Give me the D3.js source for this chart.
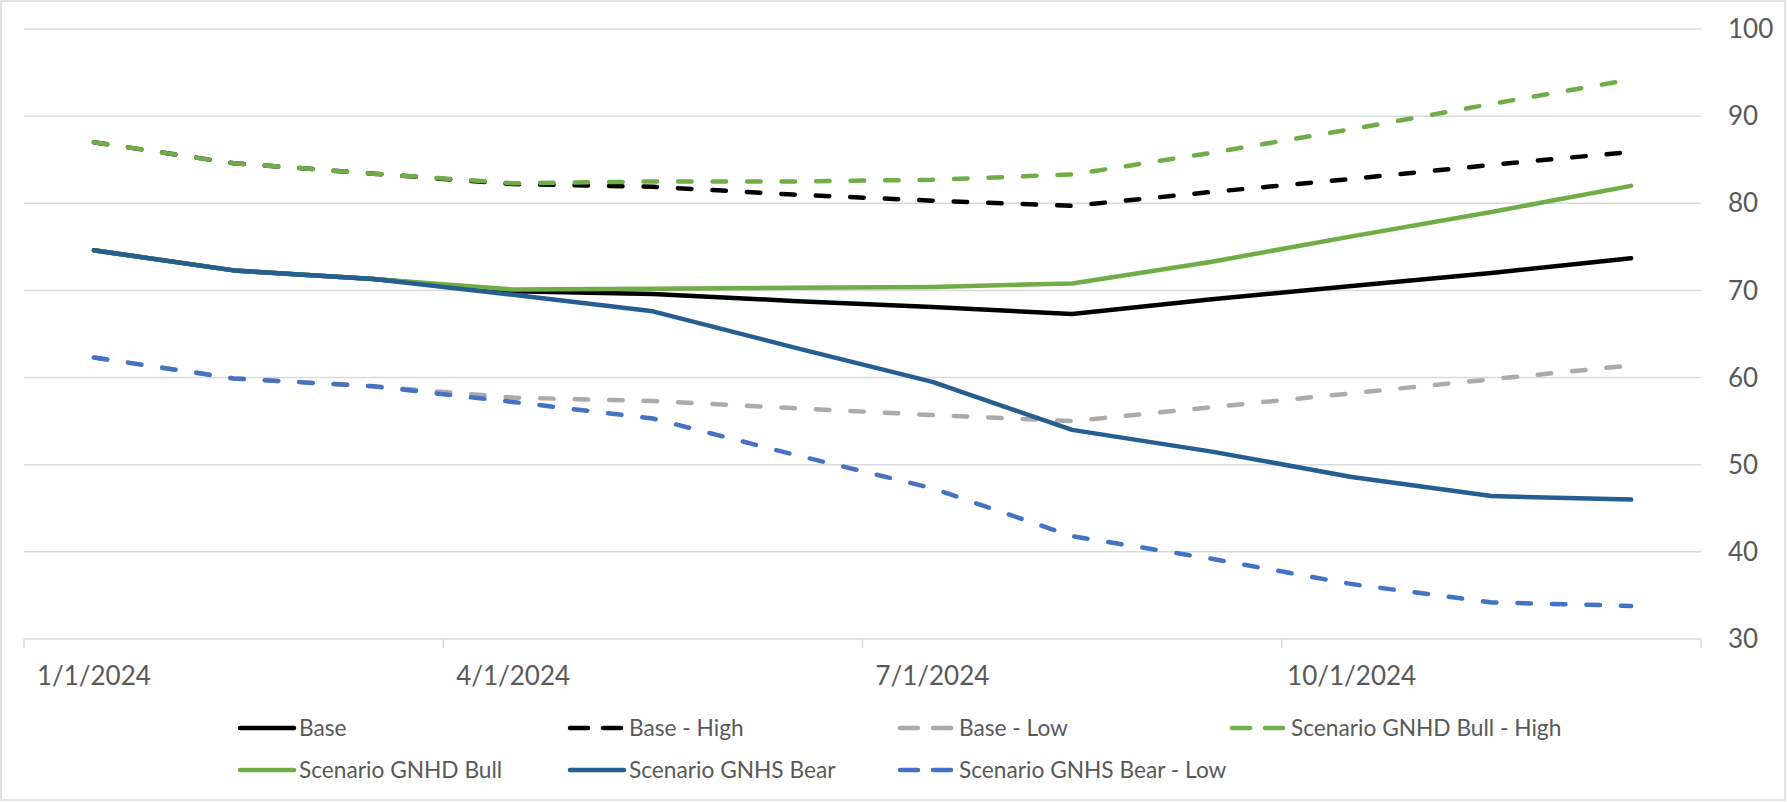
<!DOCTYPE html>
<html>
<head>
<meta charset="utf-8">
<script src="https://cdn.jsdelivr.net/npm/d3@7/dist/d3.min.js"></script>
<style>
  body { margin: 0; background: #fff; }
  svg text { font-family: Lato, "Open Sans", sans-serif; fill: #595959; }
</style>
</head>
<body>
<svg id="chart" width="1787" height="802"></svg>
<script>
// monthly points, Jan - Dec 2024
const months = ['1/1/2024', '2/1/2024', '3/1/2024', '4/1/2024', '5/1/2024', '6/1/2024',
                '7/1/2024', '8/1/2024', '9/1/2024', '10/1/2024', '11/1/2024', '12/1/2024'];
const tickLabels = ['1/1/2024', '4/1/2024', '7/1/2024', '10/1/2024'];
const yTicks = [30, 40, 50, 60, 70, 80, 90, 100];

const base      = [74.6, 72.3, 71.3, 69.9, 69.6, 68.8, 68.1, 67.3, 69.0, 70.5, 72.0, 73.7];
const baseHigh  = [87.0, 84.6, 83.4, 82.2, 81.9, 81.0, 80.3, 79.7, 81.3, 82.8, 84.4, 85.9];
const baseLow   = [62.3, 59.9, 59.0, 57.7, 57.3, 56.5, 55.7, 55.0, 56.6, 58.2, 59.8, 61.4];
const bullHigh  = [87.0, 84.6, 83.4, 82.3, 82.5, 82.5, 82.7, 83.3, 85.8, 88.5, 91.4, 94.2];
const bull      = [74.6, 72.3, 71.3, 70.1, 70.2, 70.3, 70.4, 70.8, 73.3, 76.2, 79.0, 82.0];
const bear      = [74.6, 72.3, 71.3, 69.5, 67.6, 63.5, 59.5, 54.0, 51.5, 48.6, 46.4, 46.0];
const bearLow   = [62.3, 59.9, 59.0, 57.2, 55.3, 51.2, 47.3, 41.8, 39.2, 36.3, 34.2, 33.8];

const seriesNames = ['Base', 'Base - High', 'Base - Low', 'Scenario GNHD Bull - High',
                     'Scenario GNHD Bull', 'Scenario GNHS Bear', 'Scenario GNHS Bear - Low'];
const seriesValues = [base, baseHigh, baseLow, bullHigh, bull, bear, bearLow];

// look of each series (same order as names)
const colors = ['#000000', '#000000', '#AEAAAA', '#70AD47', '#70AD47', '#255E91', '#4472C4'];
const dashed = [false, true, true, true, false, false, true];

const svg = d3.select('#chart');

// outer chart border
svg.append('rect')
    .attr('x', 1).attr('y', 1)
    .attr('width', 1784).attr('height', 799)
    .attr('fill', '#fff')
    .attr('stroke', '#d9d9d9')
    .attr('stroke-width', 1.5);

const x = d3.scaleBand().domain(months).range([24, 1701]);
const y = d3.scaleLinear().domain([30, 100]).range([639, 29]);
const cx = d => x(d) + x.bandwidth() / 2;

// gridlines
svg.append('g')
    .selectAll('line')
    .data(yTicks)
    .enter()
    .append('line')
    .attr('x1', 24).attr('x2', 1701)
    .attr('y1', d => y(d)).attr('y2', d => y(d))
    .attr('stroke', '#d9d9d9')
    .attr('stroke-width', 1.5);

// y labels on the right
svg.append('g')
    .selectAll('text')
    .data(yTicks)
    .enter()
    .append('text')
    .attr('x', 1728)
    .attr('y', d => y(d))
    .attr('dy', '0.35em')
    .style('font-size', '26px')
    .text(d => d);

// x tick marks at quarter boundaries
const tickEdges = months.filter((m, i) => i % 3 === 0).map(m => x(m)).concat([x.range()[1]]);
svg.append('g')
    .selectAll('line')
    .data(tickEdges)
    .enter()
    .append('line')
    .attr('x1', d => d).attr('x2', d => d)
    .attr('y1', y(30)).attr('y2', y(30) + 9)
    .attr('stroke', '#d9d9d9')
    .attr('stroke-width', 1.5);

// x labels
svg.append('g')
    .selectAll('text')
    .data(tickLabels)
    .enter()
    .append('text')
    .attr('x', d => cx(d))
    .attr('y', 685)
    .attr('text-anchor', 'middle')
    .style('font-size', '26px')
    .text(d => d);

// series lines
const line = d3.line()
    .x((d, i) => cx(months[i]))
    .y(d => y(d));

svg.append('g')
    .selectAll('path')
    .data(seriesValues)
    .enter()
    .append('path')
    .attr('d', d => line(d))
    .attr('fill', 'none')
    .attr('stroke', (d, i) => colors[i])
    .attr('stroke-width', 4.5)
    .attr('stroke-linejoin', 'round')
    .attr('stroke-linecap', 'round')
    .attr('stroke-dasharray', (d, i) => dashed[i] ? '13.5,21' : null);

// legend, two rows
const legendCols = [238, 568, 898, 1230];
const legendRows = [728, 770];
const legend = svg.append('g')
    .selectAll('g')
    .data(seriesNames)
    .enter()
    .append('g')
    .attr('transform', (d, i) => `translate(${legendCols[i % 4]},${legendRows[Math.floor(i / 4)]})`);

legend.append('line')
    .attr('x1', 2).attr('x2', 56)
    .attr('y1', 0).attr('y2', 0)
    .attr('stroke', (d, i) => colors[i])
    .attr('stroke-width', 4.5)
    .attr('stroke-linecap', 'round')
    .attr('stroke-dasharray', (d, i) => dashed[i] ? '18,15' : null);

legend.append('text')
    .attr('x', 61)
    .attr('y', 0)
    .attr('dy', '0.35em')
    .style('font-size', '22.7px')
    .text(d => d);
</script>
</body>
</html>
